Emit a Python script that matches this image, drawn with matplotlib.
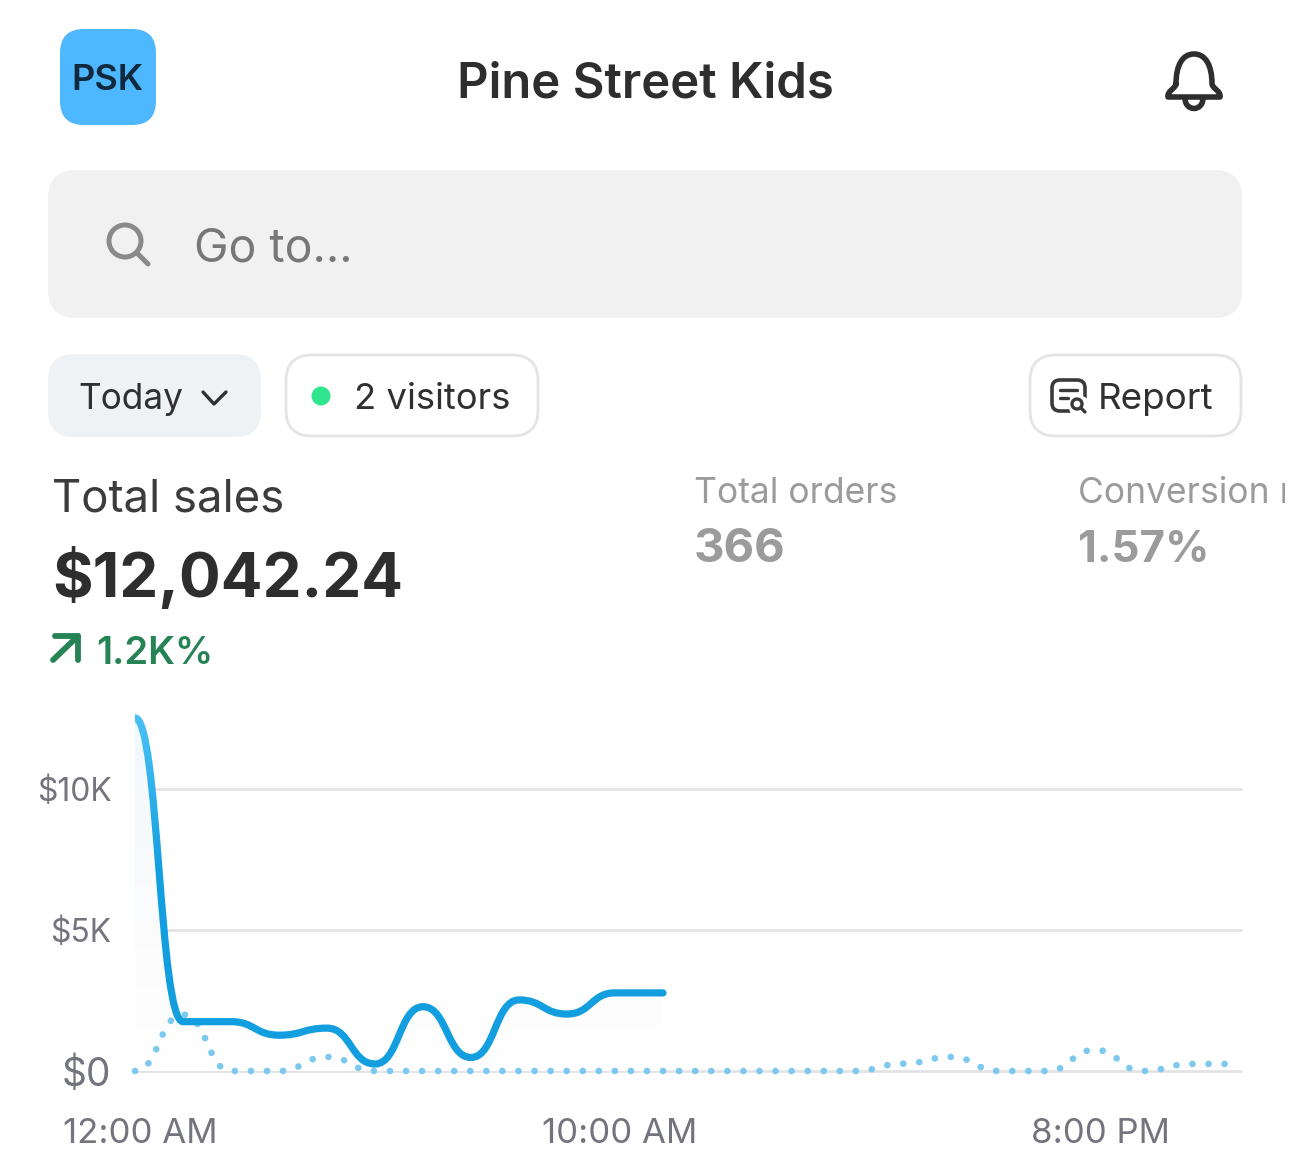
import numpy as np
import matplotlib
matplotlib.use("Agg")
import matplotlib.pyplot as plt
from matplotlib.patches import FancyBboxPatch, PathPatch, Circle, Rectangle
from matplotlib.path import Path
from matplotlib.colors import LinearSegmentedColormap
from matplotlib.transforms import ScaledTranslation

plt.rcParams["font.family"] = ["Inter", "DejaVu Sans"]

# ----------------------------------
# Data
# ----------------------------------

today_hours = [0, 1, 2, 3, 4, 5, 6, 7, 8, 9, 10, 11]
today_sales = [12520, 1750, 1750, 1270, 1520, 250, 2280, 480, 2520, 2020, 2770, 2770]

previous_hours = list(range(24))
previous_sales = [0, 2000, 0, 0, 500, 0, 0, 0, 0, 0, 0, 0,
                  0, 0, 0, 0, 260, 500, 0, 0, 750, 0, 250, 250]

y_ticks = [0, 5000, 10000]
y_tick_labels = ["$0", "$5K", "$10K"]
y_tick_sizes = [28, 23, 23]
x_ticks = [0, 10, 20]
x_tick_labels = ["12:00 AM", "10:00 AM", "8:00 PM"]

title = "Pine Street Kids"
total_sales = "$12,042.24"
total_change = "1.2K%"
total_orders = "366"
conversion = "1.57%"

DARK = "#2e2e2e"
GREY = "#9b9b9b"
GREEN = "#268356"
BORDER = "#e4e4e4"
AXIS_TEXT = "#74747f"


def smooth_path(xs, ys):
    # flat tangent at every point, like the dashboard's curve
    verts = [(xs[0], ys[0])]
    codes = [Path.MOVETO]
    for i in range(len(xs) - 1):
        mid = (xs[i] + xs[i + 1]) / 2
        verts += [(mid, ys[i]), (mid, ys[i + 1]), (xs[i + 1], ys[i + 1])]
        codes += [Path.CURVE4] * 3
    return Path(verts, codes)


def pill(ax, x0, y0, x1, y1, radius, face, edge="none", lw=0):
    box = FancyBboxPatch((x0 + radius, y0 + radius), x1 - x0 - 2 * radius, y1 - y0 - 2 * radius,
                         boxstyle=f"round,pad={radius},rounding_size={radius}",
                         facecolor=face, edgecolor=edge, linewidth=lw)
    ax.add_patch(box)


def stroke(ax, pts, color, lw, codes=None, zorder=2):
    ax.add_patch(PathPatch(Path(pts, codes), fill=False, edgecolor=color, linewidth=lw,
                           capstyle="round", joinstyle="round", zorder=zorder))


fig = plt.figure(figsize=(12.9, 11.7), dpi=100, facecolor="white")

# ----------------------------------
# App chrome, drawn in pixel coordinates
# ----------------------------------

ui = fig.add_axes([0, 0, 1, 1])
ui.set_xlim(0, 1290)
ui.set_ylim(1170, 0)
ui.axis("off")

pill(ui, 60, 29, 156, 125, 24, "#4db8ff")
ui.text(107, 90, "PSK", fontsize=26, fontweight="semibold", color="#10293c", ha="center", va="baseline")
ui.text(645, 98, title, fontsize=35.3, fontweight="semibold", color=DARK, ha="center", va="baseline")

# bell
bell_pts = [(1176, 84), (1176, 66), (1182, 54), (1194, 54), (1206, 54), (1212, 66), (1212, 84),
            (1213, 89), (1221, 91), (1220, 97), (1168, 97), (1167, 91), (1175, 89), (1176, 84)]
bell_codes = [Path.MOVETO] + [Path.CURVE4] * 9 + [Path.LINETO] + [Path.CURVE4] * 3
stroke(ui, bell_pts, DARK, 4, bell_codes)
stroke(ui, [(1185, 98), (1185, 112), (1203, 112), (1203, 98)], DARK, 4,
       [Path.MOVETO, Path.CURVE4, Path.CURVE4, Path.CURVE4])

# search box
pill(ui, 48, 170, 1242, 318, 28, "#f1f1f1")
ui.add_patch(Circle((125, 241), 16, fill=False, edgecolor="#8a8a8a", linewidth=3.6))
stroke(ui, [(137, 253), (148, 264)], "#8a8a8a", 3.6)
ui.text(194, 261, "Go to...", fontsize=33.4, color="#777777", va="baseline")

# filter row
pill(ui, 48, 354, 261, 437, 26, "#eff2f4")
ui.text(78, 409, "Today", fontsize=25.4, color="#303030", va="baseline")
stroke(ui, [(203, 392), (214, 404), (226, 392)], "#303030", 2.4)

pill(ui, 286, 355, 538, 436, 26, "white", BORDER, 2)
ui.add_patch(Circle((321, 396), 9.5, facecolor="#2fe58f", edgecolor="none"))
ui.text(354, 409, "2 visitors", fontsize=26.2, color="#303030", va="baseline")

pill(ui, 1030, 355, 1241, 436, 26, "white", BORDER, 2)
pill(ui, 1052, 380, 1085, 411, 8, "white", "#3a3a3a", 2.6)
ui.add_patch(Circle((1080, 407), 11, facecolor="white", edgecolor="none", zorder=3))
stroke(ui, [(1060, 390), (1077, 390)], "#3a3a3a", 2.4)
stroke(ui, [(1060, 398), (1068, 398)], "#3a3a3a", 2.4)
ui.add_patch(Circle((1077, 404), 5, fill=False, edgecolor="#3a3a3a", linewidth=2.4, zorder=4))
stroke(ui, [(1081, 408), (1085, 412)], "#3a3a3a", 2.4, zorder=4)
ui.text(1098, 409, "Report", fontsize=26.5, color="#303030", va="baseline")

# headline numbers
ui.text(52, 511, "Total sales", fontsize=32.8, color="#3c3c3c", va="baseline")
ui.text(52, 597, total_sales, fontsize=44.6, fontweight="bold", color=DARK, va="baseline")
stroke(ui, [(53, 660), (78, 636)], GREEN, 4.2)
stroke(ui, [(55, 636), (78, 636), (78, 660)], GREEN, 4.2)
ui.text(96, 664, total_change, fontsize=27.5, fontweight="semibold", color=GREEN, va="baseline")

ui.text(694, 503, "Total orders", fontsize=25.5, color=GREY, va="baseline")
ui.text(694, 562, total_orders, fontsize=34, fontweight="bold", color=GREY, va="baseline")
conv_label = ui.text(1078, 503, "Conversion rate", fontsize=25.5, color=GREY, va="baseline")
conv_label.set_clip_path(Rectangle((0, 0), 1285, 1170, transform=ui.transData))
conv_label.set_clip_on(True)
ui.text(1078, 562, conversion, fontsize=31.5, fontweight="bold", color=GREY, va="baseline")

# ----------------------------------
# Sales chart
# ----------------------------------

# axes box: x 135-1242 px, y 700-1071 px, 48 px per hour, 282 px per $10K
x_max = (1242 - 135) / 48
y_max = (1071 - 700) / 282 * 10000
ax = fig.add_axes([135 / 1290, (1170 - 1071) / 1170, (1242 - 135) / 1290, (1071 - 700) / 1170])
ax.patch.set_alpha(0)
for side in ax.spines.values():
    side.set_visible(False)

ax.set_yticks(y_ticks)
ax.set_yticklabels(y_tick_labels, color=AXIS_TEXT)
label_nudge = [0, 3, 0]
for lab, size, nudge in zip(ax.get_yticklabels(), y_tick_sizes, label_nudge):
    lab.set_fontsize(size)
    lab.set_transform(lab.get_transform() + ScaledTranslation(nudge / 100, 0, fig.dpi_scale_trans))
ax.tick_params(axis="y", length=0, pad=17)
ax.set_xticks(x_ticks)
ax.set_xticklabels(x_tick_labels, color=AXIS_TEXT, fontsize=25)
ax.tick_params(axis="x", length=0, pad=34)
shift = ScaledTranslation(5 / 100, 0, fig.dpi_scale_trans)
for lab in ax.get_xticklabels():
    lab.set_transform(lab.get_transform() + shift)
ax.grid(axis="y", color="#e3e3e6", linewidth=2)
ax.set_axisbelow(True)
for line in ax.get_ygridlines():
    line.set_clip_on(False)
    line.set_solid_capstyle("butt")

today_path = smooth_path(today_hours, today_sales)

# pale fill under today's line
area_verts = list(today_path.vertices) + [(today_hours[-1], 0), (today_hours[0], 0), (today_hours[0], today_sales[0])]
area_codes = list(today_path.codes) + [Path.LINETO, Path.LINETO, Path.CLOSEPOLY]
area = PathPatch(Path(area_verts, area_codes), facecolor="none", edgecolor="none", transform=ax.transData)
ax.add_patch(area)
fade = LinearSegmentedColormap.from_list("fade", ["#eef8fe", "#f7fafc", "#fcfcfd", "#ffffff"])
img = ax.imshow(np.linspace(0, 1, 256).reshape(-1, 1), cmap=fade, aspect="auto", zorder=1,
                extent=[0, x_max, 0, y_max])
img.set_clip_path(area)
ax.set_xlim(0, x_max)
ax.set_ylim(0, y_max)

# previous period, dotted
ax.add_patch(PathPatch(smooth_path(previous_hours, previous_sales), fill=False, edgecolor="#7cc8ee",
                       linewidth=4.8, linestyle=(0, (0.01, 2.4)), capstyle="round", zorder=3, clip_on=False))

# today's line, lighter towards the top
top = LinearSegmentedColormap.from_list("top", ["#139fdf", "#4fc3f7"])
band_edges = np.linspace(7000, 13200, 32)
base = PathPatch(today_path, fill=False, edgecolor="#139fdf", linewidth=5.2, capstyle="round", zorder=4)
ax.add_patch(base)
base.set_clip_path(Rectangle((0, -1000), 30, 8000, transform=ax.transData))
for i in range(len(band_edges) - 1):
    band = PathPatch(today_path, fill=False, edgecolor=top(i / 30), linewidth=5.2, capstyle="round", zorder=5)
    ax.add_patch(band)
    band.set_clip_path(Rectangle((0, band_edges[i]), 3, band_edges[i + 1] - band_edges[i], transform=ax.transData))

fig.savefig("out.png", dpi=100)
